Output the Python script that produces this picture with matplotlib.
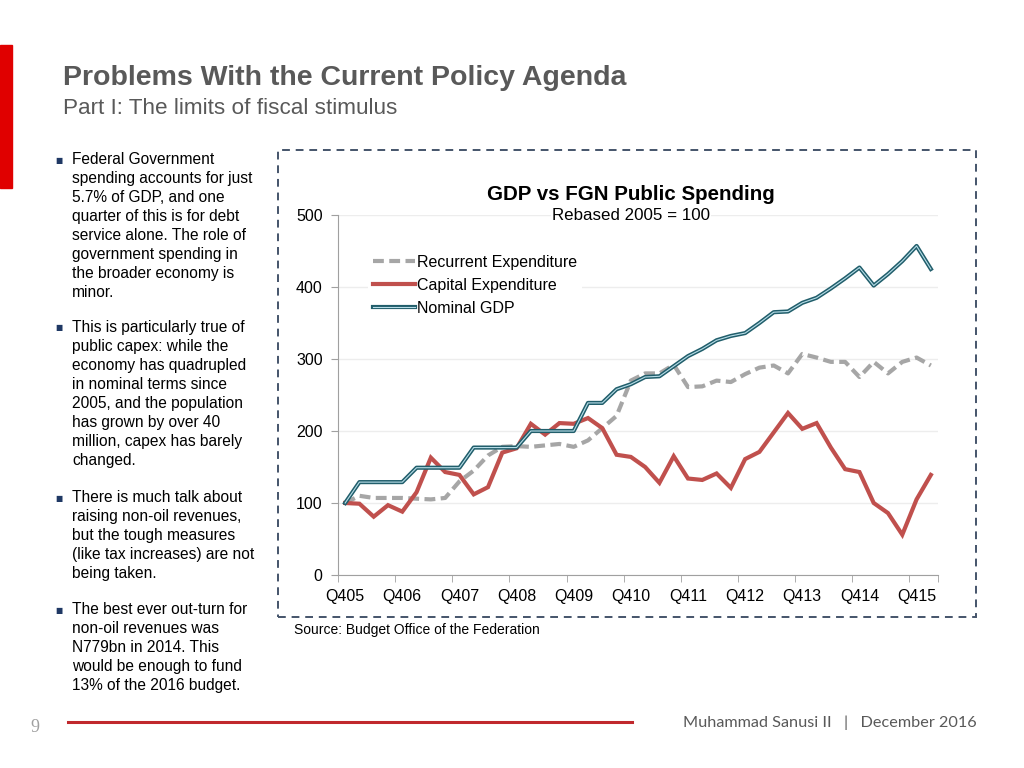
import matplotlib.pyplot as plt
import matplotlib.patches as mpatches
from matplotlib.lines import Line2D

# quarters Q4 2005 .. Q1 2016
quarters = ["Q405",
            "Q106", "Q206", "Q306", "Q406",
            "Q107", "Q207", "Q307", "Q407",
            "Q108", "Q208", "Q308", "Q408",
            "Q109", "Q209", "Q309", "Q409",
            "Q110", "Q210", "Q310", "Q410",
            "Q111", "Q211", "Q311", "Q411",
            "Q112", "Q212", "Q312", "Q412",
            "Q113", "Q213", "Q313", "Q413",
            "Q114", "Q214", "Q314", "Q414",
            "Q115", "Q215", "Q315", "Q415",
            "Q116"]

recurrent = [100, 110, 107, 107, 107, 106, 105, 107, 130, 145, 166, 178, 179, 178,
             180, 182, 178, 187, 204, 221, 270, 280, 280, 292, 261, 262, 270, 268,
             279, 288, 291, 280, 307, 302, 296, 296, 275, 296, 280, 296, 302, 291]

capital = [100, 99, 81, 97, 88, 115, 163, 143, 139, 112, 122, 170, 176, 210,
           195, 211, 210, 218, 204, 167, 164, 150, 128, 165, 134, 132, 141, 121,
           161, 171, 198, 225, 203, 211, 177, 147, 143, 100, 86, 56, 105, 139]

gdp = [100, 129, 129, 129, 129, 149, 149, 149, 149, 177, 177, 177, 177, 200,
       200, 200, 200, 239, 239, 258, 265, 275, 276, 290, 304, 314, 326, 332,
       336, 350, 365, 366, 378, 385, 398, 412, 427, 402, 418, 436, 457, 425]

bullets = [
    ["Federal Government", "spending accounts for just", "5.7% of GDP, and one",
     "quarter of this is for debt", "service alone. The role of",
     "government spending in", "the broader economy is", "minor."],
    ["This is particularly true of", "public capex: while the",
     "economy has quadrupled", "in nominal terms since", "2005, and the population",
     "has grown by over 40", "million, capex has barely", "changed."],
    ["There is much talk about", "raising non-oil revenues,", "but the tough measures",
     "(like tax increases) are not", "being taken."],
    ["The best ever out-turn for", "non-oil revenues was", "N779bn in 2014. This",
     "would be enough to fund", "13% of the 2016 budget."],
]
bullet_tops = [160, 328, 498, 610]

W, H = 1024, 768
plt.rcParams['font.family'] = ['Liberation Sans', 'DejaVu Sans']

fig = plt.figure(figsize=(W / 100, H / 100), dpi=100)


def fx(px):
    return px / W


def fy(py):
    return 1 - py / H


# slide decorations
fig.patches.append(mpatches.Rectangle((0, fy(188)), fx(12), (188 - 45) / H,
                                      transform=fig.transFigure, color="#E00000", zorder=0))
fig.text(fx(63), fy(78), "Problems With the Current Policy Agenda", fontsize=20.5,
         fontweight="bold", color="#595959", va="center", ha="left")
fig.text(fx(63), fy(108), "Part I: The limits of fiscal stimulus", fontsize=16.2,
         color="#595959", va="center", ha="left")

for lines, top in zip(bullets, bullet_tops):
    fig.text(fx(59), fy(top), "\u25a0", fontsize=5.5, color="#1F3864",
             va="center", ha="center", family="DejaVu Sans")
    for k, s in enumerate(lines):
        fig.text(fx(72), fy(top + k * 18.9), s, fontsize=11.2, color="black",
                 va="center", ha="left")

# dashed chart frame
fig.patches.append(mpatches.Rectangle((fx(278), fy(617)), (976 - 278) / W, (617 - 150) / H,
                                      transform=fig.transFigure, fill=False,
                                      edgecolor="#44546A", lw=1.4, linestyle=(0, (4, 3)),
                                      zorder=0))

# footer
fig.lines.append(Line2D([fx(68), fx(632)], [fy(722), fy(722)], transform=fig.transFigure,
                        color="#C0282D", lw=2.2))
fig.text(fx(35), fy(728), "9", fontsize=13, color="#A0A0A0", family="Liberation Serif",
         va="center", ha="center")
fig.text(fx(977), fy(723), "Muhammad Sanusi II   |   December 2016", fontsize=11.7,
         color="#595959", family="Lato", va="center", ha="right")

# chart
ax = fig.add_axes([fx(338), fy(575), (938 - 338) / W, (575 - 215) / H])
x = list(range(len(quarters)))

l_rec, = ax.plot(x, recurrent, color="#A6A6A6", lw=3, dashes=(2.6, 1.3),
                 label="Recurrent Expenditure", zorder=3)
l_cap, = ax.plot(x, capital, color="#C0504D", lw=3, label="Capital Expenditure",
                 solid_joinstyle="miter", zorder=4)
l_gdp, = ax.plot(x, gdp, color="#215E6B", lw=3, zorder=5)
l_gdp2, = ax.plot(x, gdp, color="#B7DDE8", lw=0.8, zorder=6)

ax.set_xlim(-0.5, len(quarters) - 0.5)
ax.set_ylim(0, 500)
ax.set_yticks([0, 100, 200, 300, 400, 500])
ax.set_xticks(x[::4])
ax.set_xticklabels(quarters[::4])
ax.set_xticks([i - 0.5 for i in x[::4]] + [len(quarters) - 0.5], minor=True)
ax.tick_params(axis="x", which="major", length=0, pad=10, labelsize=11.5)
ax.tick_params(axis="x", which="minor", length=5, color="#A0A0A0", direction="out")
ax.tick_params(axis="y", length=5, color="#A0A0A0", labelsize=11.5, pad=6)
ax.grid(axis="y", color="#EDEDED", lw=1)
ax.set_axisbelow(True)
for side in ["top", "right"]:
    ax.spines[side].set_visible(False)
for side in ["left", "bottom"]:
    ax.spines[side].set_color("#A0A0A0")

leg = ax.legend([l_rec, l_cap, (l_gdp, l_gdp2)],
                ["Recurrent Expenditure", "Capital Expenditure", "Nominal GDP"],
                loc="upper left", bbox_to_anchor=(0.037, 0.925), fontsize=11.5,
                frameon=True, facecolor="white", edgecolor="none", framealpha=1,
                handlelength=2.6, handletextpad=0.15, labelspacing=0.5, borderpad=0.3)

fig.text(fx(631), fy(194), "GDP vs FGN Public Spending", fontsize=14.8, fontweight="bold",
         ha="center", va="center")
fig.text(fx(631), fy(216), "Rebased 2005 = 100", fontsize=12.2, ha="center", va="center",
         bbox=dict(facecolor="white", edgecolor="none", pad=1))
fig.text(fx(294), fy(630), "Source: Budget Office of the Federation", fontsize=10,
         ha="left", va="center")

fig.savefig("out.png", dpi=100)
